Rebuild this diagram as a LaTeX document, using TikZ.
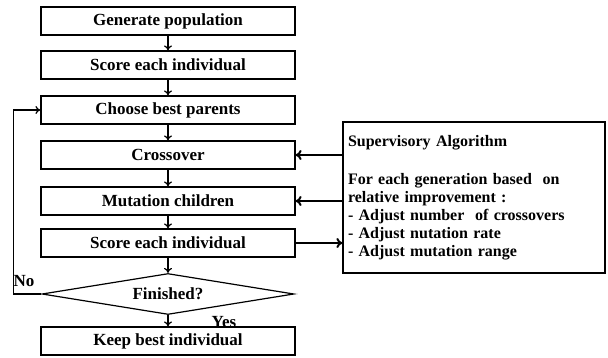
\documentclass[tikz,border=0pt]{standalone}
\usepackage{fontspec}
\setmainfont{Liberation Serif}
\usetikzlibrary{shapes.geometric,arrows.meta}

\begin{document}
\begin{tikzpicture}[x=1pt, y=-1pt, line width=1.2pt,
  font=\fontsize{17}{20}\selectfont\bfseries,
  box/.style={draw, rectangle, minimum width=254pt, minimum height=28pt, inner sep=0pt},
  flow/.style={-{To[length=5pt,width=8pt]}},
  side/.style={-{To[length=6pt,width=10pt]}, line width=2pt}]
\useasboundingbox (0,0) rectangle (608,358);
% main loop
\node[box] (gen)    at (168,21)  {Generate population};
\node[box] (score1) at (168,65)  {Score each individual};
\node[box] (choose) at (168,110) {Choose best parents};
\node[box] (cross)  at (168,155) {Crossover};
\node[box] (mut)    at (168,201) {Mutation children};
\node[box] (score2) at (168,243) {Score each individual};
\node[draw, diamond, aspect=6, minimum width=252pt, minimum height=41pt, inner sep=0pt] (fin) at (168,294) {Finished?};
\node[box] (keep)   at (168,341) {Keep best individual};
\foreach \a/\b in {gen/score1, score1/choose, choose/cross, cross/mut, mut/score2, score2/fin, fin/keep}
  \draw[flow] (\a) -- (\b);
\draw[flow] (fin.west) -- ++(-28,0) |- (choose.west);
\node (no)  at (24,281)  {No};
\node (yes) at (224,322) {Yes};
% supervisor
\node[draw, minimum width=262pt, minimum height=151pt, text width=252pt, align=left, inner sep=0pt,
  font=\fontsize{16}{18}\selectfont\bfseries] (sup) at (474,197.5)
  {Supervisory Algorithm\\[20pt]For each generation based\ \ on\\relative improvement :\\- Adjust number\ \ of crossovers\\- Adjust nutation rate\\- Adjust mutation range};
\draw[side] (sup.west |- cross.east) -- (cross.east);
\draw[side] (sup.west |- mut.east) -- (mut.east);
\draw[side] (score2.east) -- (sup.west |- score2.east);
\end{tikzpicture}
\end{document}
